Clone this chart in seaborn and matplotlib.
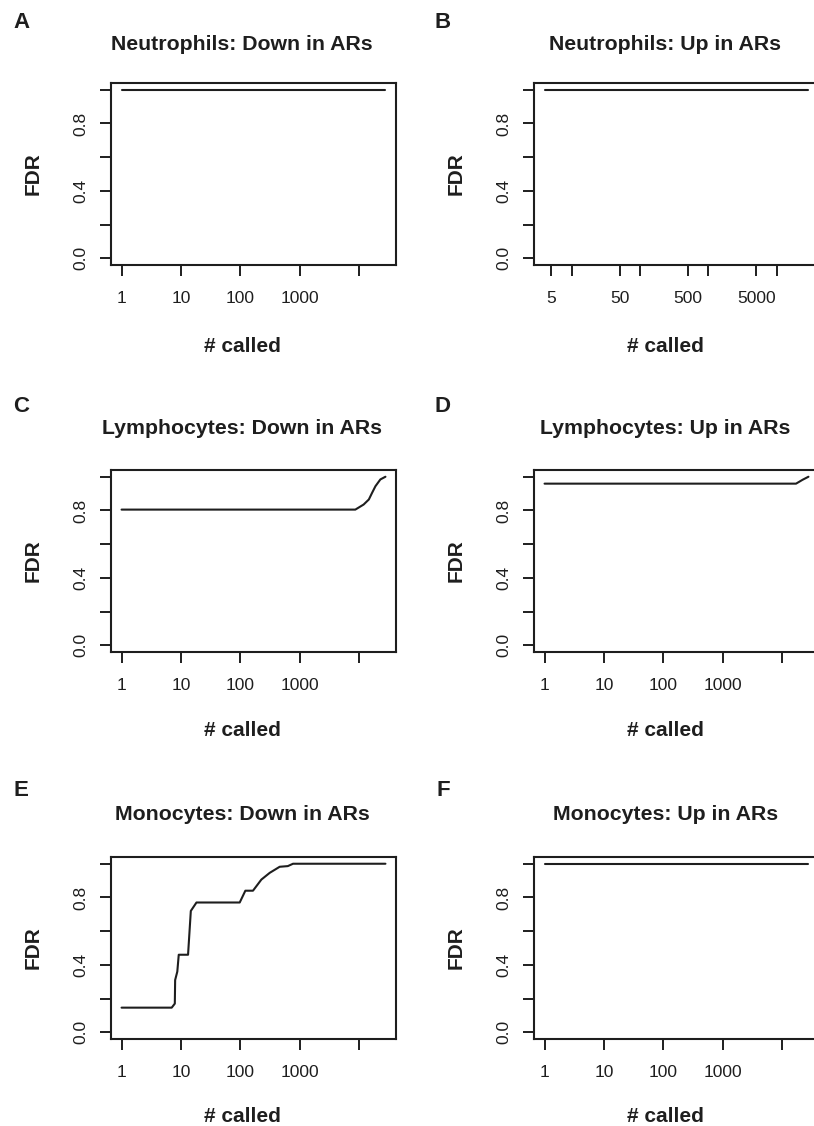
import numpy as np
import pandas as pd
import matplotlib
matplotlib.use('Agg')
import matplotlib.pyplot as plt
import seaborn as sns

# panel data (x = # called, y = FDR)
a_x = [1, 28000]
a_y = [1.0, 1.0]

b_x = [4, 29000]
b_y = [1.0, 1.0]

c_x = [1, 8700, 12000, 14700, 16700, 19000, 23000, 28000]
c_y = [0.805, 0.805, 0.835, 0.865, 0.905, 0.944, 0.984, 1.0]

d_x = [1, 17300, 22300, 28000]
d_y = [0.959, 0.959, 0.982, 1.0]

e_x = [1, 7.0, 7.9, 8.0, 8.7, 9.2, 13.2, 14.7, 18.3, 98, 122, 164, 227, 314, 462, 634, 776, 28000]
e_y = [0.146, 0.146, 0.17, 0.31, 0.36, 0.46, 0.46, 0.72, 0.77, 0.77, 0.84, 0.84, 0.906, 0.946, 0.982, 0.986, 1.0, 1.0]

f_x = [1, 28000]
f_y = [1.0, 1.0]

titles = ['Neutrophils: Down in ARs', 'Neutrophils: Up in ARs',
          'Lymphocytes: Down in ARs', 'Lymphocytes: Up in ARs',
          'Monocytes: Down in ARs', 'Monocytes: Up in ARs']
letters = ['A', 'B', 'C', 'D', 'E', 'F']
series = [(a_x, a_y), (b_x, b_y), (c_x, c_y), (d_x, d_y), (e_x, e_y), (f_x, f_y)]

std_ticks = [1, 10, 100, 1000, 10000]
std_labels = ['1', '10', '100', '1000', '']
b_ticks = [5, 10, 50, 100, 500, 1000, 5000, 10000]
b_labels = ['5', '', '50', '', '500', '', '5000', '']
y_ticks = [0.0, 0.2, 0.4, 0.6, 0.8, 1.0]
y_labels = ['0.0', '', '0.4', '', '0.8', '']

sns.set_theme(style='white')
plt.rcParams['font.family'] = ['Liberation Sans', 'DejaVu Sans']
ink = '#1e1e1e'

W, H = 814, 1126
fig = plt.figure(figsize=(W / 100, H / 100), dpi=100)

lefts = [111, 534]
box_tops = [83, 470, 857]
title_y = [45, 428, 815]
letter_y = [23, 407, 790]
letter_x = [21, 443]
xlab_gap = [82, 78, 78]
bw, bh = 285, 182

for i, (xs, ys) in enumerate(series):
    row, col = i // 2, i % 2
    left, top = lefts[col], box_tops[row]
    ax = fig.add_axes([left / W, 1 - (top + bh) / H, bw / W, bh / H])
    df = pd.DataFrame({'called': xs, 'FDR': ys})
    sns.lineplot(data=df, x='called', y='FDR', ax=ax, color=ink, lw=1.5,
                 estimator=None, sort=False)
    ax.set_xscale('log')
    lo, hi = np.log10(min(xs)), np.log10(max(xs))
    pad = 0.04 * (hi - lo)
    ax.set_xlim(10 ** (lo - pad), 10 ** (hi + pad))
    ax.set_ylim(-0.04, 1.04)
    if col == 1 and row == 0:
        ax.set_xticks(b_ticks, b_labels)
    else:
        ax.set_xticks(std_ticks, std_labels)
    ax.xaxis.set_minor_locator(matplotlib.ticker.NullLocator())
    ax.set_yticks(y_ticks, y_labels)
    for lab in ax.get_yticklabels():
        lab.set_rotation(90)
        lab.set_va('center')
    ax.tick_params(axis='both', direction='out', length=8, width=1.4,
                   colors=ink, labelsize=12.5, left=True, bottom=True)
    ax.tick_params(axis='x', pad=11)
    ax.tick_params(axis='y', pad=8)
    for sp in ax.spines.values():
        sp.set_linewidth(1.5)
        sp.set_color(ink)
        sp.set_visible(True)

    ax.set_xlabel('# called', fontsize=15, fontweight='bold', color=ink)
    ax.xaxis.set_label_coords(0.46, -xlab_gap[row] / bh)
    ax.xaxis.label.set_va('center')
    ax.set_ylabel('FDR', fontsize=15, fontweight='bold', color=ink)
    ax.yaxis.set_label_coords(-78 / bw, 0.5)
    ax.yaxis.label.set_va('center')

    ax.set_title(titles[i], fontsize=15.3, fontweight='bold', color=ink,
                 x=0.46, y=1 + (top - title_y[row]) / bh, va='center', pad=0)
    fig.text(letter_x[col] / W, 1 - letter_y[row] / H, letters[i],
             fontsize=16, fontweight='bold', color=ink, ha='center', va='center')

fig.savefig('out.png', dpi=100)
